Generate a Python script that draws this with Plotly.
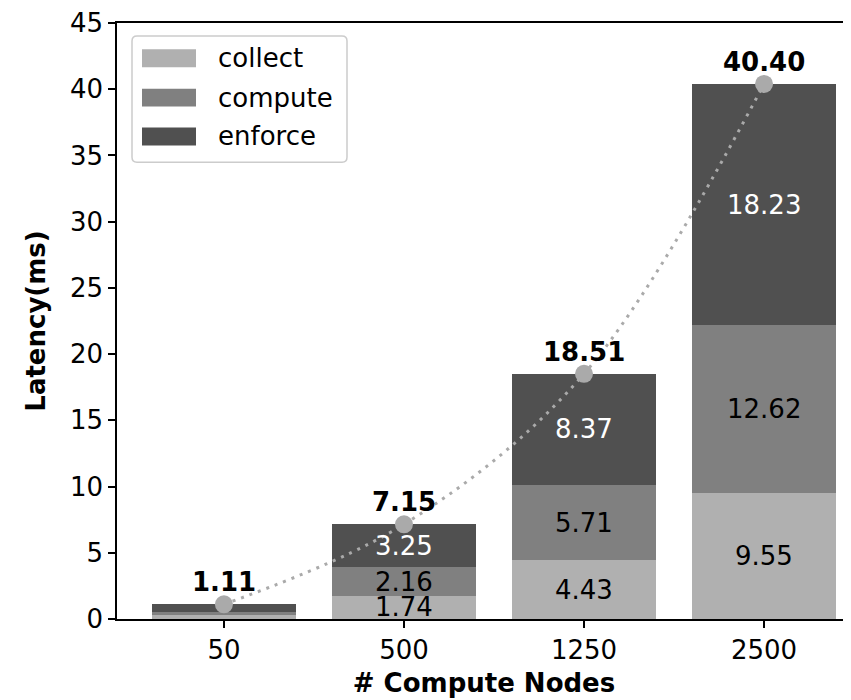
import plotly.graph_objects as go

categories = ["50", "500", "1250", "2500"]
collect = [0.28, 1.74, 4.43, 9.55]
compute = [0.25, 2.16, 5.71, 12.62]
enforce = [0.58, 3.25, 8.37, 18.23]
totals = [1.11, 7.15, 18.51, 40.40]
show_inner = [False, True, True, True]

series_names = ["collect", "compute", "enforce"]
series_colors = ["#b0b0b0", "#808080", "#505050"]
label_colors = ["black", "black", "white"]
yticks = [0, 5, 10, 15, 20, 25, 30, 35, 40, 45]

FONT = "DejaVu Sans"
FS = 26
OFF = 8  # page body margin
W, H = 851 - OFF, 700 - OFF
# plot area in screen coords
SL, SR, ST, SB = 117, 851, 20, 619
L = SL - OFF
T = ST - OFF
R = W - (SR - OFF)
B = H - (SB - OFF)
PW, PH = W - L - R, H - T - B

def px(x):
    return (x - SL) / PW

def py(y):
    return (SB - y) / PH

fig = go.Figure()
series = [collect, compute, enforce]
for name, vals, col in zip(series_names, series, series_colors):
    fig.add_trace(go.Bar(x=list(range(len(categories))), y=vals, name=name,
                         marker_color=col, marker_line_width=0, showlegend=False))

fig.add_trace(go.Scatter(x=list(range(len(categories))), y=totals, mode="lines+markers",
                         line=dict(color="#aaaaaa", width=3, dash="3px,6px", shape="spline"),
                         marker=dict(size=18, color="#aaaaaa"), showlegend=False))

annotations = []
for i in range(len(categories)):
    if not show_inner[i]:
        continue
    base = 0
    for vals, lc in zip(series, label_colors):
        v = vals[i]
        annotations.append(dict(x=i, y=base + v / 2, xref="x", yref="y",
                                text=f"{v:.2f}", showarrow=False,
                                font=dict(family=FONT, size=FS, color=lc)))
        base += v
for i, t in enumerate(totals):
    annotations.append(dict(x=i, y=t, xref="x", yref="y", text=f"<b>{t:.2f}</b>",
                            showarrow=False, yshift=22,
                            font=dict(family=FONT, size=FS, color="black")))

# custom legend
shapes = []
bx0, bx1, by0, by1 = 132, 347, 33, 160
r = 5
x0, x1, y0, y1 = px(bx0), px(bx1), py(by1), py(by0)
rx, ry = r / PW, r / PH
path = (f"M {x0+rx},{y0} L {x1-rx},{y0} Q {x1},{y0} {x1},{y0+ry} "
        f"L {x1},{y1-ry} Q {x1},{y1} {x1-rx},{y1} L {x0+rx},{y1} Q {x0},{y1} {x0},{y1-ry} "
        f"L {x0},{y0+ry} Q {x0},{y0} {x0+rx},{y0} Z")
shapes.append(dict(type="path", xref="paper", yref="paper", path=path,
                   fillcolor="white", line=dict(color="#cccccc", width=1.5), layer="above"))
centers = [55.5, 95, 134]
for name, col, cy in zip(series_names, series_colors, centers):
    shapes.append(dict(type="rect", xref="paper", yref="paper",
                       x0=px(142), x1=px(196), y0=py(cy + 9), y1=py(cy - 9),
                       fillcolor=col, line=dict(width=0), layer="above"))
    annotations.append(dict(x=px(216), y=py(cy), xref="paper", yref="paper",
                            text=name, showarrow=False, xanchor="left", yanchor="middle",
                            font=dict(family=FONT, size=FS, color="black")))

fig.update_layout(
    width=W, height=H,
    margin=dict(l=L, r=R, t=T, b=B, pad=0),
    plot_bgcolor="white", paper_bgcolor="white",
    barmode="stack", bargap=0.2,
    font=dict(family=FONT, size=FS, color="black"),
    annotations=annotations, shapes=shapes,
    showlegend=False,
)
fig.update_xaxes(range=[-0.594, 3.483], tickvals=list(range(len(categories))),
                 ticktext=categories, showline=True, linecolor="black",
                 linewidth=1.5, mirror=True, ticks="outside", ticklen=7, tickwidth=1.5,
                 tickcolor="black", showgrid=False, zeroline=False, tickfont=dict(size=FS),
                 title=dict(text="<b># Compute Nodes</b>", font=dict(size=FS), standoff=10))
fig.update_yaxes(range=[0, 45], tickvals=yticks, showline=True, linecolor="black",
                 linewidth=1.5, ticks="outside", ticklen=7, tickwidth=1.5, tickcolor="black",
                 showgrid=False, zeroline=False, tickfont=dict(size=FS),
                 ticklabeloverflow="allow",
                 title=dict(text="<b>Latency(ms)</b>", font=dict(size=FS), standoff=17))

fig.write_html("out.html")
